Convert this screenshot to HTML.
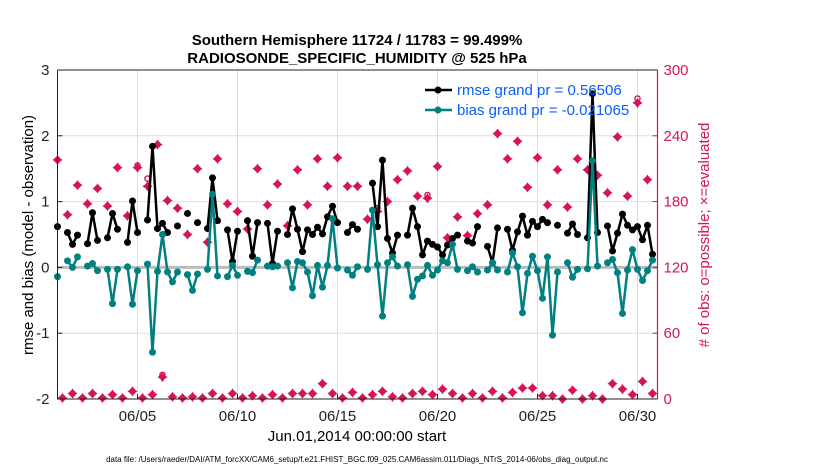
<!DOCTYPE html>
<html><head><meta charset="utf-8"><style>
body{margin:0;background:#fff;}
svg{display:block;font-family:"Liberation Sans",Arial,sans-serif;}
</style></head><body>
<svg id="chart" width="830" height="470" viewBox="0 0 830 470" xmlns="http://www.w3.org/2000/svg">
<rect width="830" height="470" fill="#fff"/>
<text x="357" y="45" text-anchor="middle" font-size="15" font-weight="bold">Southern Hemisphere 11724 / 11783 = 99.499%</text>
<text x="357" y="63" text-anchor="middle" font-size="15" font-weight="bold">RADIOSONDE_SPECIFIC_HUMIDITY @ 525 hPa</text>
<g id="grid"></g>
<g id="marks"></g>
<g id="axes"></g>
<text transform="translate(33,235) rotate(-90)" text-anchor="middle" font-size="15">rmse and bias (model - observation)</text>
<text transform="translate(709,235) rotate(-90)" text-anchor="middle" font-size="15" fill="#d8125b"># of obs: o=possible; ×=evaluated</text>
<text x="357" y="441" text-anchor="middle" font-size="15">Jun.01,2014 00:00:00 start</text>
<text x="357" y="462" text-anchor="middle" font-size="8">data file: /Users/raeder/DAI/ATM_forcXX/CAM6_setup/f.e21.FHIST_BGC.f09_025.CAM6assim.011/Diags_NTrS_2014-06/obs_diag_output.nc</text>
<g>
<line x1="425" y1="90" x2="452" y2="90" stroke="#000" stroke-width="2.5"/>
<circle cx="438" cy="90" r="3.5" fill="#000"/>
<text x="457" y="95" font-size="15" fill="#0a5cff">rmse grand pr = 0.56506</text>
<line x1="425" y1="110" x2="452" y2="110" stroke="#008080" stroke-width="2.5"/>
<circle cx="438" cy="110" r="3.5" fill="#008080"/>
<text x="457" y="115" font-size="15" fill="#0a5cff">bias grand pr = -0.021065</text>
</g>
</svg>
<script>
const xTickLabels = ["06/05","06/10","06/15","06/20","06/25","06/30"];
const xTickDays = [4,9,14,19,24,29];
const yTicks = [-2,-1,0,1,2,3];
const rTicks = [0,60,120,180,240,300];
const rmse = [0.62,null,0.53,0.35,0.49,null,0.36,0.83,0.41,null,0.45,0.82,0.58,null,0.38,1.01,0.53,null,0.72,1.84,0.59,0.67,0.53,null,0.63,null,0.82,null,0.68,null,0.59,1.36,0.71,null,0.57,0.09,0.55,null,0.71,0.17,0.68,null,0.67,0.06,0.55,null,0.5,0.89,0.58,0.24,0.57,0.5,0.61,0.51,0.77,0.93,0.68,null,0.53,0.65,0.58,null,null,1.28,0.62,1.63,0.44,0.22,0.49,null,0.49,0.9,0.62,0.19,0.4,0.35,0.31,0.19,0.34,0.44,0.49,null,0.4,0.37,0.62,null,0.32,0.07,0.6,null,0.58,0.26,0.54,0.78,0.49,0.7,0.62,0.73,0.68,null,0.64,null,0.52,0.66,0.5,null,0.45,2.64,0.53,null,0.63,0.25,0.52,0.81,0.64,0.57,0.62,0.42,0.64,0.2];
const bias = [-0.14,null,0.1,0,0.16,null,0.02,0.06,-0.05,null,-0.03,-0.55,-0.03,null,0.01,-0.56,-0.05,null,0.05,-1.29,-0.06,0.5,-0.07,-0.22,-0.07,null,-0.11,-0.35,-0.1,null,-0.03,1.11,-0.13,null,-0.14,0.03,-0.12,null,-0.06,-0.08,0.11,null,0.02,0.01,0.02,null,0.07,-0.31,0.09,0.07,-0.07,-0.43,0.03,-0.3,0.03,0.74,-0.01,null,-0.04,-0.12,0.01,null,-0.03,0.87,0.04,-0.74,0.07,0.16,0.02,null,0.04,-0.44,-0.18,-0.13,0.03,-0.12,-0.04,0.1,0.07,0.35,-0.03,null,-0.05,0.01,-0.07,null,-0.04,0.07,-0.04,null,-0.07,0.22,0.01,-0.69,-0.09,0.17,-0.05,-0.47,0.16,-1.03,-0.07,null,0.07,-0.15,-0.03,null,-0.02,1.62,0.02,null,0.07,0.12,-0.08,-0.7,-0.04,0.27,-0.03,-0.2,-0.05,0.11];
const evaluated = [218,1,168,5,195,1,178,5,192,1,176,4,211,1,167,7,211,1,194,4,232,20,181,2,174,1,150,2,210,1,143,5,219,1,178,5,171,1,155,3,210,1,177,4,196,1,158,5,209,5,177,5,219,14,194,5,220,1,194,6,194,1,164,4,171,7,180,2,200,1,208,5,185,7,183,4,212,9,147,5,166,1,149,5,169,1,177,7,242,1,219,6,235,10,193,10,220,3,177,3,209,0,175,8,219,0,209,3,204,0,188,14,239,9,185,4,270,16,200,5];
const possible = [218,1,168,5,195,1,178,5,192,1,176,4,211,1,167,7,213,1,201,4,232,22,181,2,174,1,150,2,210,1,143,5,219,1,178,5,171,1,155,3,210,1,177,4,196,1,158,5,209,5,177,5,219,14,194,5,220,1,194,6,194,1,164,4,174,7,180,2,200,1,208,5,185,7,186,4,212,9,147,5,166,1,149,5,169,1,177,7,242,1,219,6,235,10,193,10,220,3,177,3,209,0,175,8,219,0,209,3,204,0,188,14,239,9,185,4,274,16,200,5];

const L=57.5,R=657.5,T=70,B=399;
const NS="http://www.w3.org/2000/svg";
function xDay(d){return L+(d/30)*(R-L);}
function xIdx(i){return xDay(i*0.25);}
function yL(v){return B-(v+2)/5*(B-T);}
function yR(v){return B-v/300*(B-T);}
function mk(tag,attrs,parent){const e=document.createElementNS(NS,tag);for(const k in attrs)e.setAttribute(k,attrs[k]);parent.appendChild(e);return e;}
const grid=document.getElementById('grid'),marks=document.getElementById('marks'),axes=document.getElementById('axes');

xTickDays.forEach((d,k)=>{
  const g=mk('line',{x1:xDay(d),x2:xDay(d),y1:T,y2:B,stroke:'#dcdcdc','stroke-width':1},grid);
  
  
  const t=mk('line',{x1:xDay(d),x2:xDay(d),y1:B,y2:B-5,stroke:'#222','stroke-width':1},axes);
  
  
  const lb=mk('text',{x:xDay(d),y:B+22,'text-anchor':'middle','font-size':15,fill:'#222'},axes);
  lb.textContent=xTickLabels[k];
  
  
});
yTicks.forEach(v=>{
  if(v>-2&&v<3){const g=mk('line',{x1:L,x2:R,y1:yL(v),y2:yL(v),stroke:'#f0d4e0','stroke-width':1},grid);
  
  }
  const t=mk('line',{x1:L,x2:L+5,y1:yL(v),y2:yL(v),stroke:'#222'},axes);
  
  
  const lb=mk('text',{x:L-8,y:yL(v)+5,'text-anchor':'end','font-size':15,fill:'#222'},axes);
  lb.textContent=String(v);
  
  
});
rTicks.forEach(v=>{
  const t=mk('line',{x1:R,x2:R-5,y1:yR(v),y2:yR(v),stroke:'#d8125b'},axes);
  
  
  const lb=mk('text',{x:R+6,y:yR(v)+5,'font-size':15,fill:'#d8125b'},axes);
  lb.textContent=String(v);
  
  
});
const zl=mk('line',{x1:L,x2:R,y1:yL(0),y2:yL(0),stroke:'#bbbbbb','stroke-width':3},grid);



function star(x,y,name){
  const s=mk('path',{d:`M${x},${y-4}L${x+1.6},${y-1.6}L${x+4},${y}L${x+1.6},${y+1.6}L${x},${y+4}L${x-1.6},${y+1.6}L${x-4},${y}L${x-1.6},${y-1.6}Z`,fill:'#d8125b',stroke:'#d8125b','stroke-width':1.2},marks);
  
  
}
possible.forEach((v,i)=>{
  if(v==null)return;
  const c=mk('circle',{cx:xIdx(i),cy:yR(v),r:2.6,fill:'none',stroke:'#d8125b','stroke-width':1.4},marks);
  
  
});
evaluated.forEach((v,i)=>{ if(v!=null) star(xIdx(i),yR(v),'evaluated-obs-marker'); });

function series(arr,color,name){
  let seg=[];
  const flush=()=>{ if(seg.length>1){const p=mk('polyline',{points:seg.join(' '),fill:'none',stroke:color,'stroke-width':2.5,'stroke-linejoin':'round'},marks);
    
    } seg=[]; };
  arr.forEach((v,i)=>{ if(v==null){flush();return;} seg.push(xIdx(i)+','+yL(v)); });
  flush();
  arr.forEach((v,i)=>{ if(v==null)return;
    const c=mk('circle',{cx:xIdx(i),cy:yL(v),r:3.5,fill:color},marks);
    
    
  });
}
series(rmse,'#000000','rmse');
series(bias,'#008080','bias');

const box=mk('path',{d:`M${L},${T}V${B}H${R}`,fill:'none',stroke:'#222','stroke-width':1},axes);


const tp=mk('line',{x1:L,x2:R,y1:T,y2:T,stroke:'#222'},axes);


const ra=mk('line',{x1:R,x2:R,y1:T,y2:B,stroke:'#d8125b','stroke-width':1.2},axes);


</script>
</body></html>
